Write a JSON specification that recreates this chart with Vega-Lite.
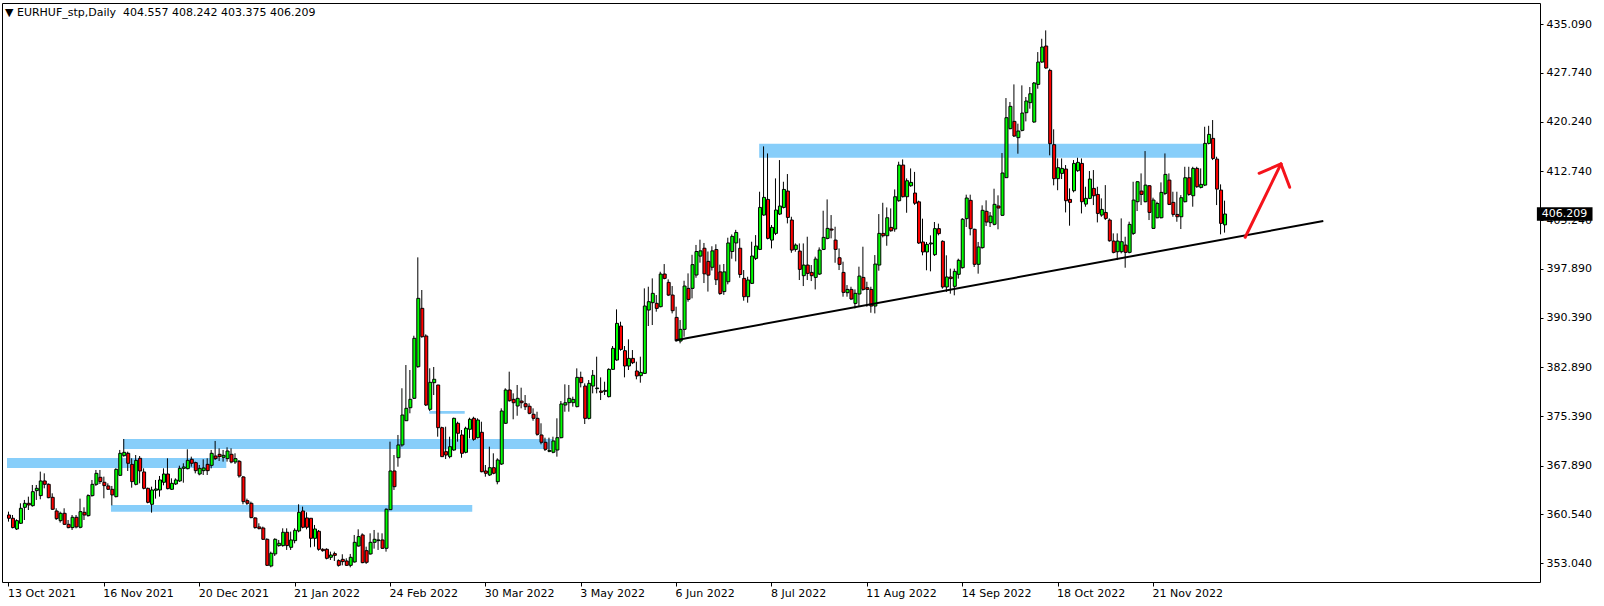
{
"$schema": "https://vega.github.io/schema/vega-lite/v6.json",
"autosize": {"type": "none"},
"padding": {"left": 2, "top": 3, "right": 64, "bottom": 24},
"width": 1538,
"height": 579,
"background": "white",
"title": {"text": "▼ EURHUF_stp,Daily\u00a0\u00a0404.557 408.242 403.375 406.209", "anchor": "start", "frame": "group", "orient": "top", "offset": -21, "baseline": "middle", "dx": 3, "font": "DejaVu Sans", "fontSize": 11, "fontWeight": "normal", "color": "black"},
"config": {
  "view": {"stroke": "black", "strokeWidth": 1},
  "axis": {"grid": false, "domain": false, "tickColor": "black", "tickWidth": 1, "labelColor": "black", "labelFont": "DejaVu Sans", "labelFontSize": 11, "title": null}
},
"datasets": {
  "candles": [
{"i":0,"o":360.39,"h":360.9,"l":359.38,"c":359.89},
{"i":1,"o":359.89,"h":360.39,"l":358.36,"c":358.47},
{"i":2,"o":358.26,"h":359.73,"l":358.11,"c":359.53},
{"i":3,"o":359.13,"h":362.17,"l":359.02,"c":361.41},
{"i":4,"o":361.56,"h":362.68,"l":359.63,"c":362.17},
{"i":5,"o":362.17,"h":363.18,"l":361.15,"c":361.92},
{"i":6,"o":361.81,"h":364.96,"l":361.66,"c":363.94},
{"i":7,"o":364.1,"h":364.96,"l":362.68,"c":364.45},
{"i":8,"o":363.34,"h":366.99,"l":362.78,"c":365.57},
{"i":9,"o":365.57,"h":366.73,"l":364.45,"c":365.06},
{"i":10,"o":365.06,"h":365.21,"l":362.93,"c":363.03},
{"i":11,"o":363.08,"h":363.69,"l":361.15,"c":361.26},
{"i":12,"o":361.0,"h":361.41,"l":359.63,"c":359.84},
{"i":13,"o":359.53,"h":360.9,"l":359.23,"c":360.65},
{"i":14,"o":360.65,"h":361.41,"l":358.87,"c":358.97},
{"i":15,"o":358.97,"h":359.63,"l":358.36,"c":358.47},
{"i":16,"o":358.47,"h":360.39,"l":358.11,"c":360.04},
{"i":17,"o":360.04,"h":360.39,"l":358.36,"c":358.57},
{"i":18,"o":358.52,"h":362.88,"l":358.36,"c":360.9},
{"i":19,"o":360.8,"h":361.56,"l":359.63,"c":360.39},
{"i":20,"o":360.29,"h":363.54,"l":360.14,"c":363.34},
{"i":21,"o":363.34,"h":365.72,"l":363.18,"c":365.06},
{"i":22,"o":365.06,"h":367.24,"l":364.81,"c":366.73},
{"i":23,"o":366.13,"h":367.24,"l":365.11,"c":365.47},
{"i":24,"o":365.37,"h":366.23,"l":362.93,"c":364.86},
{"i":25,"o":364.81,"h":365.21,"l":364.2,"c":364.3},
{"i":26,"o":364.3,"h":364.81,"l":361.86,"c":363.44},
{"i":27,"o":363.18,"h":367.49,"l":363.08,"c":367.34},
{"i":28,"o":366.43,"h":370.29,"l":366.33,"c":369.78},
{"i":29,"o":369.42,"h":371.96,"l":369.27,"c":369.93},
{"i":30,"o":369.78,"h":370.03,"l":367.09,"c":368.26},
{"i":31,"o":368.1,"h":369.02,"l":364.55,"c":365.47},
{"i":32,"o":365.06,"h":369.52,"l":364.91,"c":368.71},
{"i":33,"o":369.02,"h":369.37,"l":365.21,"c":367.09},
{"i":34,"o":366.94,"h":367.49,"l":364.3,"c":364.45},
{"i":35,"o":364.45,"h":364.55,"l":362.17,"c":362.32},
{"i":36,"o":362.02,"h":364.7,"l":360.75,"c":364.2},
{"i":37,"o":364.15,"h":365.72,"l":362.88,"c":364.35},
{"i":38,"o":364.2,"h":366.33,"l":363.18,"c":365.72},
{"i":39,"o":365.37,"h":367.49,"l":364.91,"c":366.63},
{"i":40,"o":366.63,"h":369.02,"l":364.3,"c":364.4},
{"i":41,"o":364.3,"h":365.97,"l":364.2,"c":365.21},
{"i":42,"o":365.11,"h":365.97,"l":364.96,"c":365.72},
{"i":43,"o":365.57,"h":367.9,"l":365.42,"c":367.49},
{"i":44,"o":367.49,"h":368.26,"l":365.31,"c":367.7},
{"i":45,"o":367.44,"h":370.39,"l":367.34,"c":368.71},
{"i":46,"o":368.87,"h":369.27,"l":367.75,"c":368.26},
{"i":47,"o":368.36,"h":368.51,"l":366.73,"c":367.14},
{"i":48,"o":366.63,"h":368.0,"l":366.43,"c":367.49},
{"i":49,"o":367.14,"h":368.87,"l":366.48,"c":367.55},
{"i":50,"o":368.1,"h":369.02,"l":366.48,"c":367.14},
{"i":51,"o":367.95,"h":370.29,"l":367.49,"c":369.78},
{"i":52,"o":369.37,"h":371.66,"l":368.76,"c":368.97},
{"i":53,"o":369.63,"h":370.54,"l":368.61,"c":369.27},
{"i":54,"o":369.17,"h":370.29,"l":368.51,"c":369.47},
{"i":55,"o":368.97,"h":370.69,"l":368.51,"c":370.13},
{"i":56,"o":369.63,"h":370.54,"l":368.26,"c":368.46},
{"i":57,"o":368.46,"h":369.78,"l":368.16,"c":368.97},
{"i":58,"o":368.56,"h":368.76,"l":366.07,"c":366.33},
{"i":59,"o":366.18,"h":366.33,"l":362.02,"c":362.42},
{"i":60,"o":362.57,"h":362.88,"l":361.92,"c":362.17},
{"i":61,"o":362.17,"h":362.42,"l":359.89,"c":359.99},
{"i":62,"o":359.94,"h":360.04,"l":358.31,"c":358.47},
{"i":63,"o":358.57,"h":359.13,"l":358.21,"c":358.31},
{"i":64,"o":358.41,"h":358.62,"l":356.59,"c":356.69},
{"i":65,"o":356.69,"h":356.84,"l":352.63,"c":352.73},
{"i":66,"o":352.63,"h":354.81,"l":352.43,"c":354.56},
{"i":67,"o":354.46,"h":356.84,"l":354.15,"c":356.69},
{"i":68,"o":355.73,"h":356.59,"l":355.57,"c":356.08},
{"i":69,"o":355.73,"h":358.36,"l":355.57,"c":357.76},
{"i":70,"o":357.76,"h":358.36,"l":355.07,"c":355.73},
{"i":71,"o":355.47,"h":357.86,"l":355.07,"c":356.59},
{"i":72,"o":356.49,"h":358.36,"l":356.08,"c":358.06},
{"i":73,"o":357.96,"h":362.02,"l":357.76,"c":360.8},
{"i":74,"o":361.0,"h":361.66,"l":358.36,"c":358.52},
{"i":75,"o":359.94,"h":360.8,"l":358.21,"c":358.52},
{"i":76,"o":359.89,"h":359.89,"l":355.47,"c":356.84},
{"i":77,"o":356.84,"h":358.87,"l":355.57,"c":358.26},
{"i":78,"o":357.91,"h":358.11,"l":354.96,"c":355.17},
{"i":79,"o":355.17,"h":355.32,"l":354.81,"c":354.96},
{"i":80,"o":355.17,"h":355.32,"l":353.64,"c":353.8},
{"i":81,"o":353.95,"h":354.81,"l":353.54,"c":354.3},
{"i":82,"o":354.51,"h":354.81,"l":353.39,"c":354.25},
{"i":83,"o":353.44,"h":353.64,"l":352.53,"c":352.73},
{"i":84,"o":353.64,"h":354.41,"l":352.73,"c":353.29},
{"i":85,"o":353.39,"h":353.8,"l":352.63,"c":352.73},
{"i":86,"o":352.73,"h":354.46,"l":352.43,"c":353.95},
{"i":87,"o":353.24,"h":357.35,"l":353.14,"c":356.23},
{"i":88,"o":355.67,"h":358.21,"l":355.57,"c":357.1},
{"i":89,"o":357.35,"h":357.6,"l":353.04,"c":353.14},
{"i":90,"o":354.96,"h":355.57,"l":352.94,"c":353.19},
{"i":91,"o":354.46,"h":357.6,"l":354.35,"c":356.23},
{"i":92,"o":356.23,"h":358.11,"l":355.27,"c":356.69},
{"i":93,"o":356.49,"h":357.71,"l":355.07,"c":356.59},
{"i":94,"o":356.59,"h":357.6,"l":355.22,"c":355.32},
{"i":95,"o":355.32,"h":361.41,"l":354.81,"c":361.26},
{"i":96,"o":361.2,"h":371.55,"l":361.15,"c":367.09},
{"i":97,"o":367.09,"h":369.52,"l":364.2,"c":364.7},
{"i":98,"o":369.11,"h":372.57,"l":367.74,"c":371.05},
{"i":99,"o":371.05,"h":379.68,"l":370.79,"c":375.61},
{"i":100,"o":374.74,"h":383.22,"l":374.74,"c":376.63},
{"i":101,"o":376.72,"h":382.46,"l":375.87,"c":378.0},
{"i":102,"o":378.15,"h":387.68,"l":378.05,"c":387.29},
{"i":103,"o":382.96,"h":399.61,"l":382.81,"c":393.37},
{"i":104,"o":391.85,"h":394.64,"l":387.38,"c":387.53},
{"i":105,"o":387.64,"h":387.89,"l":376.98,"c":377.13},
{"i":106,"o":376.48,"h":382.72,"l":376.22,"c":380.59},
{"i":107,"o":380.53,"h":382.92,"l":378.65,"c":381.05},
{"i":108,"o":380.18,"h":380.18,"l":372.31,"c":373.68},
{"i":109,"o":373.68,"h":373.83,"l":369.27,"c":369.27},
{"i":110,"o":370.03,"h":373.83,"l":368.91,"c":369.52},
{"i":111,"o":369.27,"h":372.31,"l":369.02,"c":370.79},
{"i":112,"o":370.28,"h":375.2,"l":370.18,"c":375.11},
{"i":113,"o":374.35,"h":374.59,"l":371.55,"c":372.83},
{"i":114,"o":372.57,"h":373.33,"l":369.11,"c":369.78},
{"i":115,"o":369.93,"h":373.83,"l":369.78,"c":373.59},
{"i":116,"o":373.44,"h":375.2,"l":372.06,"c":374.96},
{"i":117,"o":375.11,"h":375.35,"l":371.7,"c":371.91},
{"i":118,"o":372.15,"h":375.11,"l":372.06,"c":374.85},
{"i":119,"o":372.98,"h":374.59,"l":366.89,"c":366.98},
{"i":120,"o":367.09,"h":368.0,"l":366.22,"c":366.74},
{"i":121,"o":366.48,"h":370.79,"l":366.33,"c":367.59},
{"i":122,"o":367.59,"h":369.78,"l":366.59,"c":366.74},
{"i":123,"o":365.46,"h":369.02,"l":365.06,"c":368.76},
{"i":124,"o":368.15,"h":376.63,"l":368.0,"c":376.22},
{"i":125,"o":374.35,"h":379.68,"l":374.24,"c":379.42},
{"i":126,"o":379.42,"h":382.21,"l":377.64,"c":377.79},
{"i":127,"o":378.0,"h":378.91,"l":374.96,"c":377.48},
{"i":128,"o":376.98,"h":380.18,"l":375.5,"c":378.15},
{"i":129,"o":377.74,"h":379.77,"l":376.63,"c":377.48},
{"i":130,"o":377.33,"h":378.65,"l":376.37,"c":376.87},
{"i":131,"o":376.94,"h":377.39,"l":375.72,"c":375.87},
{"i":132,"o":375.72,"h":376.63,"l":374.74,"c":375.11},
{"i":133,"o":375.11,"h":376.11,"l":372.46,"c":372.67},
{"i":134,"o":372.57,"h":374.35,"l":371.15,"c":371.46},
{"i":135,"o":371.46,"h":372.16,"l":370.13,"c":370.39},
{"i":136,"o":370.08,"h":372.16,"l":369.94,"c":370.23},
{"i":137,"o":369.94,"h":372.31,"l":369.78,"c":371.66},
{"i":138,"o":370.28,"h":375.11,"l":369.27,"c":372.16},
{"i":139,"o":372.16,"h":377.74,"l":372.06,"c":377.29},
{"i":140,"o":377.13,"h":380.28,"l":376.11,"c":377.48},
{"i":141,"o":377.49,"h":380.18,"l":376.12,"c":378.15},
{"i":142,"o":377.49,"h":378.4,"l":376.88,"c":377.99},
{"i":143,"o":376.88,"h":382.71,"l":376.78,"c":381.34},
{"i":144,"o":381.34,"h":382.21,"l":379.82,"c":380.53},
{"i":145,"o":380.02,"h":380.43,"l":374.24,"c":375.1},
{"i":146,"o":375.1,"h":380.94,"l":374.95,"c":380.43},
{"i":147,"o":380.02,"h":382.46,"l":378.91,"c":381.65},
{"i":148,"o":379.62,"h":384.49,"l":378.91,"c":379.72},
{"i":149,"o":379.26,"h":381.34,"l":377.89,"c":379.06},
{"i":150,"o":379.21,"h":380.68,"l":378.65,"c":379.36},
{"i":151,"o":378.4,"h":382.71,"l":378.3,"c":382.56},
{"i":152,"o":382.56,"h":386.11,"l":382.46,"c":385.76},
{"i":153,"o":383.98,"h":391.69,"l":383.88,"c":389.56},
{"i":154,"o":389.16,"h":389.81,"l":385.4,"c":385.6},
{"i":155,"o":385.4,"h":386.11,"l":381.34,"c":383.07},
{"i":156,"o":383.07,"h":387.13,"l":382.46,"c":384.23},
{"i":157,"o":384.23,"h":385.5,"l":383.37,"c":383.57},
{"i":158,"o":382.31,"h":383.73,"l":381.04,"c":381.55},
{"i":159,"o":381.6,"h":384.49,"l":380.53,"c":382.1},
{"i":160,"o":381.95,"h":394.89,"l":381.85,"c":392.2},
{"i":161,"o":391.59,"h":395.14,"l":389.16,"c":392.86},
{"i":162,"o":392.71,"h":396.41,"l":389.31,"c":394.13},
{"i":163,"o":392.61,"h":393.87,"l":391.34,"c":391.84},
{"i":164,"o":392.1,"h":397.42,"l":392.0,"c":397.07},
{"i":165,"o":397.07,"h":398.59,"l":396.26,"c":396.41},
{"i":166,"o":395.8,"h":396.26,"l":393.72,"c":393.87},
{"i":167,"o":393.87,"h":395.24,"l":391.08,"c":391.49},
{"i":168,"o":390.47,"h":392.1,"l":386.77,"c":386.92},
{"i":169,"o":386.87,"h":390.07,"l":386.52,"c":388.65},
{"i":170,"o":388.65,"h":396.05,"l":387.53,"c":395.24},
{"i":171,"o":394.89,"h":397.17,"l":392.86,"c":393.21},
{"i":172,"o":394.89,"h":400.0,"l":393.37,"c":398.5},
{"i":173,"o":396.92,"h":401.5,"l":396.5,"c":400.5},
{"i":174,"o":399.8,"h":402.3,"l":398.8,"c":400.6},
{"i":175,"o":401.0,"h":401.8,"l":395.7,"c":397.1},
{"i":176,"o":399.0,"h":400.5,"l":394.4,"c":396.9},
{"i":177,"o":398.1,"h":401.3,"l":397.6,"c":400.6},
{"i":178,"o":400.8,"h":401.6,"l":395.4,"c":396.2},
{"i":179,"o":397.4,"h":398.5,"l":393.9,"c":394.1},
{"i":180,"o":394.4,"h":398.6,"l":393.9,"c":397.4},
{"i":181,"o":395.9,"h":402.6,"l":395.5,"c":401.8},
{"i":182,"o":400.5,"h":403.1,"l":399.4,"c":402.8},
{"i":183,"o":401.8,"h":403.8,"l":399.0,"c":403.4},
{"i":184,"o":401.0,"h":402.5,"l":396.5,"c":397.0},
{"i":185,"o":396.41,"h":397.68,"l":393.01,"c":393.62},
{"i":186,"o":393.62,"h":396.66,"l":392.71,"c":396.16},
{"i":187,"o":395.65,"h":401.99,"l":395.55,"c":399.81},
{"i":188,"o":399.45,"h":403.0,"l":399.2,"c":401.33},
{"i":189,"o":400.82,"h":409.6,"l":400.72,"c":407.21},
{"i":190,"o":406.05,"h":416.5,"l":405.95,"c":408.74},
{"i":191,"o":408.43,"h":415.43,"l":402.35,"c":402.5},
{"i":192,"o":402.24,"h":404.53,"l":400.97,"c":404.17},
{"i":193,"o":403.26,"h":411.63,"l":403.0,"c":406.81},
{"i":194,"o":406.2,"h":414.42,"l":406.05,"c":407.42},
{"i":195,"o":407.21,"h":411.12,"l":407.06,"c":409.95},
{"i":196,"o":409.7,"h":412.29,"l":404.78,"c":405.69},
{"i":197,"o":405.29,"h":405.79,"l":400.31,"c":400.72},
{"i":198,"o":400.82,"h":401.73,"l":400.47,"c":401.48},
{"i":199,"o":400.57,"h":401.73,"l":396.16,"c":397.78},
{"i":200,"o":396.82,"h":401.73,"l":395.24,"c":398.44},
{"i":201,"o":398.44,"h":402.75,"l":396.16,"c":397.17},
{"i":202,"o":397.32,"h":398.44,"l":396.0,"c":396.82},
{"i":203,"o":396.56,"h":399.71,"l":394.73,"c":399.35},
{"i":204,"o":397.07,"h":401.13,"l":396.92,"c":400.72},
{"i":205,"o":400.82,"h":406.71,"l":400.72,"c":402.65},
{"i":206,"o":402.5,"h":408.43,"l":402.35,"c":404.02},
{"i":207,"o":403.92,"h":406.05,"l":402.5,"c":403.76},
{"i":208,"o":402.24,"h":404.27,"l":398.79,"c":400.82},
{"i":209,"o":399.55,"h":400.97,"l":397.68,"c":398.54},
{"i":210,"o":397.32,"h":398.95,"l":393.62,"c":394.28},
{"i":211,"o":394.23,"h":395.39,"l":393.62,"c":394.73},
{"i":212,"o":394.73,"h":395.14,"l":393.11,"c":393.27},
{"i":213,"o":392.6,"h":394.73,"l":391.84,"c":394.13},
{"i":214,"o":394.03,"h":398.19,"l":392.1,"c":396.76},
{"i":215,"o":396.56,"h":401.23,"l":394.53,"c":394.73},
{"i":216,"o":394.99,"h":395.9,"l":392.1,"c":394.73},
{"i":217,"o":394.73,"h":395.14,"l":391.18,"c":392.2},
{"i":218,"o":392.2,"h":399.96,"l":391.08,"c":398.59},
{"i":219,"o":398.44,"h":406.2,"l":397.58,"c":403.26},
{"i":220,"o":403.26,"h":407.92,"l":402.65,"c":402.9},
{"i":221,"o":402.9,"h":407.21,"l":401.38,"c":405.64},
{"i":222,"o":404.17,"h":407.06,"l":403.51,"c":403.66},
{"i":223,"o":403.92,"h":409.95,"l":403.51,"c":408.84},
{"i":224,"o":408.23,"h":414.17,"l":408.08,"c":413.66},
{"i":225,"o":413.66,"h":414.52,"l":408.74,"c":408.84},
{"i":226,"o":408.84,"h":411.63,"l":406.4,"c":411.27},
{"i":227,"o":410.51,"h":413.15,"l":410.36,"c":411.02},
{"i":228,"o":409.4,"h":412.62,"l":407.6,"c":407.85},
{"i":229,"o":408.06,"h":408.24,"l":401.67,"c":401.79},
{"i":230,"o":401.95,"h":405.5,"l":399.92,"c":400.43},
{"i":231,"o":400.43,"h":401.95,"l":397.64,"c":401.59},
{"i":232,"o":401.65,"h":402.96,"l":397.48,"c":401.8},
{"i":233,"o":400.02,"h":404.99,"l":399.82,"c":403.98},
{"i":234,"o":403.98,"h":404.74,"l":402.96,"c":403.22},
{"i":235,"o":402.05,"h":402.2,"l":394.85,"c":395.1},
{"i":236,"o":395.1,"h":399.92,"l":394.34,"c":396.62},
{"i":237,"o":396.62,"h":397.89,"l":394.08,"c":396.37},
{"i":238,"o":395.2,"h":397.89,"l":393.83,"c":397.48},
{"i":239,"o":397.03,"h":399.41,"l":396.37,"c":399.16},
{"i":240,"o":398.04,"h":405.6,"l":397.89,"c":405.4},
{"i":241,"o":405.5,"h":409.15,"l":404.23,"c":408.64},
{"i":242,"o":408.29,"h":409.15,"l":402.96,"c":403.98},
{"i":243,"o":403.88,"h":403.98,"l":398.14,"c":398.55},
{"i":244,"o":398.55,"h":401.95,"l":397.13,"c":401.19},
{"i":245,"o":401.09,"h":407.53,"l":400.93,"c":406.77},
{"i":246,"o":406.62,"h":408.29,"l":404.38,"c":404.99},
{"i":247,"o":404.89,"h":406.51,"l":404.23,"c":405.9},
{"i":248,"o":404.64,"h":410.06,"l":404.48,"c":407.68},
{"i":249,"o":407.43,"h":409.05,"l":403.88,"c":407.12},
{"i":250,"o":406.01,"h":415.49,"l":405.9,"c":412.45},
{"i":251,"o":411.74,"h":423.86,"l":411.69,"c":420.87},
{"i":252,"o":419.2,"h":423.26,"l":419.1,"c":422.6},
{"i":253,"o":420.31,"h":425.94,"l":417.93,"c":418.08},
{"i":254,"o":417.83,"h":419.96,"l":415.39,"c":418.84},
{"i":255,"o":418.94,"h":425.79,"l":418.79,"c":421.58},
{"i":256,"o":421.63,"h":424.02,"l":420.31,"c":423.41},
{"i":257,"o":423.16,"h":425.54,"l":422.24,"c":424.52},
{"i":258,"o":420.21,"h":426.3,"l":420.11,"c":426.15},
{"i":259,"o":425.94,"h":430.86,"l":425.28,"c":429.34},
{"i":260,"o":429.34,"h":432.89,"l":429.24,"c":431.63},
{"i":261,"o":431.78,"h":434.16,"l":428.33,"c":428.43},
{"i":262,"o":428.07,"h":428.33,"l":415.14,"c":416.91},
{"i":263,"o":416.76,"h":419.1,"l":410.57,"c":411.59},
{"i":264,"o":411.59,"h":414.67,"l":409.83,"c":413.26},
{"i":265,"o":412.39,"h":414.67,"l":411.53,"c":413.15},
{"i":266,"o":413.05,"h":413.66,"l":406.45,"c":408.23},
{"i":267,"o":408.43,"h":410.11,"l":404.43,"c":407.98},
{"i":268,"o":409.75,"h":414.42,"l":409.5,"c":413.91},
{"i":269,"o":412.8,"h":414.77,"l":412.64,"c":414.07},
{"i":270,"o":413.91,"h":414.67,"l":406.3,"c":408.08},
{"i":271,"o":407.72,"h":410.36,"l":407.32,"c":408.59},
{"i":272,"o":408.59,"h":412.75,"l":408.48,"c":411.53},
{"i":273,"o":410.11,"h":412.9,"l":407.57,"c":408.99},
{"i":274,"o":409.19,"h":410.36,"l":404.93,"c":406.3},
{"i":275,"o":406.05,"h":408.59,"l":405.79,"c":406.91},
{"i":276,"o":406.45,"h":410.61,"l":405.29,"c":405.54},
{"i":277,"o":405.29,"h":405.54,"l":401.99,"c":402.14},
{"i":278,"o":402.09,"h":403.26,"l":400.22,"c":400.37},
{"i":279,"o":400.47,"h":403.26,"l":399.2,"c":402.09},
{"i":280,"o":400.47,"h":405.54,"l":400.22,"c":401.99},
{"i":281,"o":401.48,"h":402.75,"l":398.03,"c":400.37},
{"i":282,"o":400.37,"h":405.04,"l":400.22,"c":404.63},
{"i":283,"o":403.26,"h":411.12,"l":403.01,"c":408.33},
{"i":284,"o":408.08,"h":411.22,"l":406.66,"c":411.12},
{"i":285,"o":409.7,"h":412.39,"l":407.57,"c":409.19},
{"i":286,"o":408.08,"h":415.79,"l":407.98,"c":410.61},
{"i":287,"o":410.51,"h":410.61,"l":405.29,"c":406.45},
{"i":288,"o":404.02,"h":408.69,"l":403.92,"c":408.33},
{"i":289,"o":405.64,"h":408.08,"l":405.54,"c":407.82},
{"i":290,"o":405.64,"h":411.02,"l":405.54,"c":409.5},
{"i":291,"o":409.35,"h":415.43,"l":409.09,"c":412.24},
{"i":292,"o":411.37,"h":412.39,"l":407.57,"c":407.67},
{"i":293,"o":407.98,"h":409.6,"l":405.79,"c":406.15},
{"i":294,"o":406.15,"h":409.6,"l":405.03,"c":405.79},
{"i":295,"o":405.79,"h":409.09,"l":403.92,"c":408.69},
{"i":296,"o":408.08,"h":413.4,"l":407.98,"c":411.73},
{"i":297,"o":411.73,"h":413.4,"l":408.99,"c":409.19},
{"i":298,"o":408.99,"h":413.4,"l":407.32,"c":413.15},
{"i":299,"o":413.15,"h":413.4,"l":410.21,"c":410.36},
{"i":300,"o":410.26,"h":413.15,"l":410.11,"c":410.72},
{"i":301,"o":410.61,"h":419.49,"l":410.46,"c":416.96},
{"i":302,"o":416.96,"h":419.64,"l":416.81,"c":418.33},
{"i":303,"o":417.72,"h":420.51,"l":414.42,"c":414.67},
{"i":304,"o":414.57,"h":414.93,"l":407.57,"c":410.0},
{"i":305,"o":409.85,"h":410.72,"l":403.11,"c":404.78},
{"i":306,"o":404.557,"h":408.242,"l":403.375,"c":406.209}
  ],
  "zones": [
    {"x1": -0.375, "x2": 54.8, "p1": 369.07, "p2": 367.55},
    {"x1": 28.9, "x2": 137, "p1": 371.96, "p2": 370.44},
    {"x1": 25.8, "x2": 116.7, "p1": 361.91, "p2": 360.9},
    {"x1": 105.9, "x2": 114.8, "p1": 376.22, "p2": 375.81},
    {"x1": 188.9, "x2": 300.9, "p1": 416.9, "p2": 414.77}
  ],
  "trend": [
    {"x1": 167.85, "p1": 386.99, "x2": 330.85, "p2": 405.15}
  ],
  "arrow": [
    {"x1": 311.2, "p1": 402.67, "x2": 320.2, "p2": 413.83},
    {"x1": 314.7, "p1": 412.41, "x2": 320.2, "p2": 413.83},
    {"x1": 322.4, "p1": 410.28, "x2": 320.2, "p2": 413.83}
  ],
  "last": [
    {"x1": 384.6, "x2": 398.6, "p1": 407.23, "p2": 405.19, "tx": 385.8, "price": 406.209, "label": "406.209"}
  ]
},
"layer": [
  {
    "data": {"name": "zones"},
    "mark": {"type": "rect", "fill": "#87cefa", "stroke": null},
    "encoding": {
      "x": {"field": "x1", "type": "quantitative", "scale": {"domain": [-0.375, 384.125], "nice": false, "zero": false},
        "axis": {"orient": "bottom", "values": [0,24,48,72,96,120,144,168,192,216,240,264,288], "tickSize": 4, "labelAlign": "left", "labelBaseline": "top", "labelPadding": 1, "labelOffset": -1, "labelOverlap": false, "labelFlush": false,
          "labelExpr": "['13 Oct 2021','16 Nov 2021','20 Dec 2021','21 Jan 2022','24 Feb 2022','30 Mar 2022','3 May 2022','6 Jun 2022','8 Jul 2022','11 Aug 2022','14 Sep 2022','18 Oct 2022','21 Nov 2022'][round(datum.value/24)]"}},
      "x2": {"field": "x2"},
      "y": {"field": "p1", "type": "quantitative", "scale": {"domain": [350.19, 438.33], "nice": false, "zero": false},
        "axis": {"orient": "right", "values": [353.04,360.54,367.89,375.39,382.89,390.39,397.89,405.24,412.74,420.24,427.74,435.09], "format": ".3f", "tickSize": 3, "labelPadding": 3, "labelBaseline": "middle", "labelOverlap": false, "labelFlush": false}},
      "y2": {"field": "p2"}
    }
  },
  {
    "data": {"name": "candles"},
    "mark": {"type": "rule", "color": "black", "strokeWidth": 1},
    "encoding": {
      "x": {"field": "i", "type": "quantitative"},
      "y": {"field": "l", "type": "quantitative"},
      "y2": {"field": "h"}
    }
  },
  {
    "data": {"name": "candles"},
    "mark": {"type": "bar", "size": 3, "xOffset": 0.5, "stroke": "black", "strokeWidth": 1},
    "encoding": {
      "x": {"field": "i", "type": "quantitative"},
      "y": {"field": "o", "type": "quantitative"},
      "y2": {"field": "c"},
      "fill": {"condition": {"test": "datum.c >= datum.o", "value": "#00ff00"}, "value": "#ff0000"}
    }
  },
  {
    "data": {"name": "trend"},
    "mark": {"type": "rule", "color": "black", "strokeWidth": 2},
    "encoding": {
      "x": {"field": "x1", "type": "quantitative"},
      "x2": {"field": "x2"},
      "y": {"field": "p1", "type": "quantitative"},
      "y2": {"field": "p2"}
    }
  },
  {
    "data": {"name": "arrow"},
    "mark": {"type": "rule", "color": "#f5131b", "strokeWidth": 3, "strokeCap": "round"},
    "encoding": {
      "x": {"field": "x1", "type": "quantitative"},
      "x2": {"field": "x2"},
      "y": {"field": "p1", "type": "quantitative"},
      "y2": {"field": "p2"}
    }
  },
  {
    "data": {"name": "last"},
    "mark": {"type": "rect", "fill": "black", "clip": false},
    "encoding": {
      "x": {"field": "x1", "type": "quantitative"},
      "x2": {"field": "x2"},
      "y": {"field": "p1", "type": "quantitative"},
      "y2": {"field": "p2"}
    }
  },
  {
    "data": {"name": "last"},
    "mark": {"type": "text", "color": "white", "align": "left", "baseline": "middle", "font": "DejaVu Sans", "fontSize": 11, "clip": false},
    "encoding": {
      "x": {"field": "tx", "type": "quantitative"},
      "y": {"field": "price", "type": "quantitative"},
      "text": {"field": "label"}
    }
  }
]
}
